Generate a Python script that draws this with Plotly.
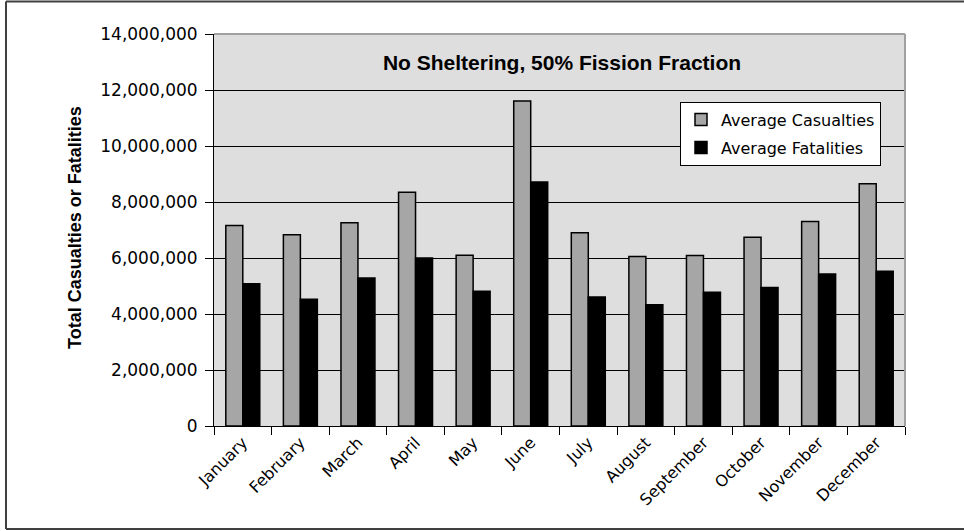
import plotly.graph_objects as go

months = ["January", "February", "March", "April", "May", "June", "July",
          "August", "September", "October", "November", "December"]
casualties = [7160000, 6830000, 7260000, 8350000, 6100000, 11610000, 6900000,
              6050000, 6090000, 6740000, 7300000, 8650000]
fatalities = [5080000, 4530000, 5290000, 6000000, 4810000, 8710000, 4610000,
              4330000, 4780000, 4950000, 5430000, 5530000]
y_ticks = [0, 2000000, 4000000, 6000000, 8000000, 10000000, 12000000, 14000000]
y_tick_labels = ["0", "2,000,000", "4,000,000", "6,000,000", "8,000,000",
                 "10,000,000", "12,000,000", "14,000,000"]

W, H = 964, 531
L, R, T, B = 214, 905, 34, 426
pw, ph = R - L, B - T

def px(x):
    return (x - L) / pw

def py(y):
    return (B - y) / ph

fig = go.Figure()
fig.add_trace(go.Bar(x=months, y=casualties, name="Average Casualties",
                     marker=dict(color="#a6a6a6", line=dict(color="black", width=1.5)),
                     legendgroup="a"))
fig.add_trace(go.Bar(x=months, y=fatalities, name="Average Fatalities",
                     marker=dict(color="black", line=dict(color="black", width=1.5)),
                     legendgroup="b"))

fig.update_layout(
    width=W, height=H,
    margin=dict(l=L, r=W - R, t=T, b=H - B, autoexpand=False),
    paper_bgcolor="white",
    plot_bgcolor="#dedede",
    barmode="group",
    bargap=0.41,
    bargroupgap=0,
    font=dict(family="DejaVu Sans", color="black"),
    title=dict(text="<b>No Sheltering, 50% Fission Fraction</b>",
               font=dict(family="Liberation Sans", size=21, color="black"),
               x=px(562), xref="paper", xanchor="center",
               y=1 - 63 / H, yref="container", yanchor="middle"),
    legend=dict(x=px(680), y=py(101.7), xanchor="left", yanchor="top",
                bgcolor="white", bordercolor="black", borderwidth=1,
                font=dict(family="DejaVu Sans", size=16, color="black"),
                traceorder="grouped", tracegroupgap=4),
    showlegend=True,
)
fig.update_xaxes(
    type="category",
    showline=True, linecolor="black", linewidth=1,
    ticks="outside", ticklen=8, tickcolor="black", tickson="boundaries",
    tickangle=-45, tickfont=dict(family="DejaVu Sans", size=16, color="black"),
    showgrid=False, zeroline=False,
)
fig.update_yaxes(
    range=[0, 14000000],
    tickvals=y_ticks, ticktext=y_tick_labels,
    showline=True, linecolor="black", linewidth=1,
    ticks="outside", ticklen=8, tickcolor="black",
    tickfont=dict(family="DejaVu Sans", size=17, color="black"),
    ticklabelstandoff=4,
    showgrid=True, gridcolor="black", gridwidth=1,
    zeroline=False,
)

fig.add_annotation(text="<b>Total Casualties or Fatalities</b>", textangle=-90,
                   xref="paper", yref="paper", x=px(75), y=py(228),
                   xanchor="center", yanchor="middle", showarrow=False,
                   font=dict(family="Liberation Sans", size=18, color="black"))

# plot area top/right borders (gray)
fig.add_shape(type="line", xref="paper", yref="paper", x0=0, x1=1, y0=1, y1=1,
              line=dict(color="#a0a0a0", width=2), layer="above")
fig.add_shape(type="line", xref="paper", yref="paper", x0=1, x1=1, y0=0, y1=1,
              line=dict(color="#a0a0a0", width=2), layer="above")
# outer frame (left, top, bottom)
frame = dict(color="#404040", width=2)
fig.add_shape(type="line", xref="paper", yref="paper",
              x0=px(6), x1=px(6), y0=py(529), y1=py(1.5), line=frame, layer="above")
fig.add_shape(type="line", xref="paper", yref="paper",
              x0=px(6), x1=px(964), y0=py(1.5), y1=py(1.5), line=frame, layer="above")
fig.add_shape(type="line", xref="paper", yref="paper",
              x0=px(6), x1=px(964), y0=py(529), y1=py(529), line=frame, layer="above")

fig.write_html("out.html", config={"displayModeBar": False},
               post_script="document.body.style.margin='0';document.body.style.overflow='hidden';")
